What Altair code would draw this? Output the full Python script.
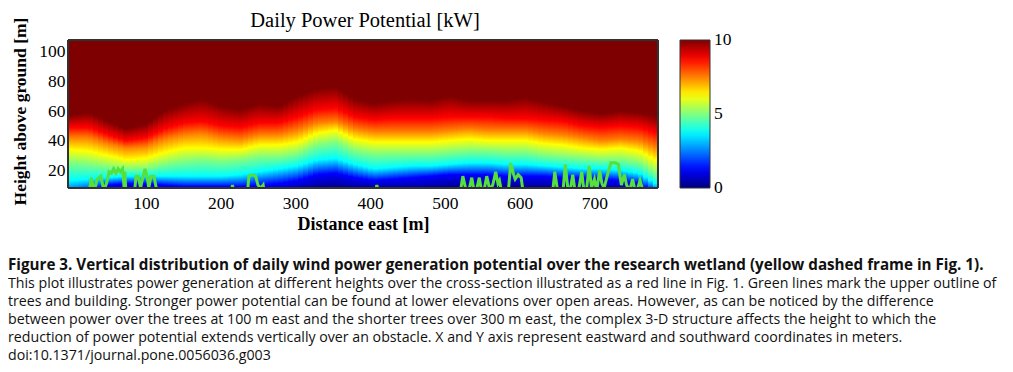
import numpy as np
import pandas as pd
import altair as alt

# ---------------- data ----------------
# x positions (m) of the stations at which iso-power heights were read
station_x = [-4, 24, 49, 74, 100, 125, 151, 176, 202, 227, 252, 278, 303, 329, 354, 379,
             405, 430, 456, 481, 506, 532, 557, 583, 608, 633, 659, 684, 710, 735, 760, 785]
# power levels (kW) and the height (m) at which each level is reached, per station
level_kw = [0, 1.25, 3.75, 5, 6.25, 7.5, 8.75, 10]
h_0   = [-6, -4, 2, 4, 4, 2, 0, 0, 0, 0, 1, 1, 3, 6, 7, 6, 7, 6, 5, 6, 7, 7, 7, 7, 7, 7, 7, 7, 6, 5, 3, -2]
h_125 = [1, 5, 10, 11, 11, 10, 9, 9, 9, 9, 10, 11, 13, 17, 18, 15, 13, 14, 15, 16, 17, 17, 17, 16, 16, 16, 15, 15, 14, 13, 11, 3]
h_375 = [13, 14, 15, 16, 16, 16, 16, 16, 16, 17, 19, 21, 23, 27, 28, 24, 21, 22, 23, 23, 24, 25, 25, 24, 24, 23, 22, 21, 21, 20, 18, 10]
h_5   = [25, 24, 22, 21, 21, 24, 26, 27, 26, 27, 29, 29, 31, 37, 39, 33, 31, 31, 31, 31, 32, 33, 33, 32, 32, 30, 29, 28, 27, 27, 25, 17]
h_625 = [34, 33, 30, 27, 28, 32, 35, 35, 34, 34, 37, 37, 39, 45, 47, 41, 39, 39, 39, 39, 40, 41, 40, 40, 40, 38, 37, 35, 34, 35, 33, 26]
h_75  = [42, 42, 38, 35, 36, 41, 44, 45, 42, 41, 44, 44, 47, 52, 53, 48, 46, 46, 46, 46, 47, 48, 47, 47, 47, 45, 44, 42, 40, 41, 40, 35]
h_875 = [49, 49, 44, 40, 42, 48, 52, 53, 50, 49, 52, 52, 56, 61, 62, 56, 54, 55, 55, 55, 56, 56, 56, 55, 55, 54, 53, 50, 49, 50, 49, 45]
h_10  = [57, 59, 53, 48, 51, 60, 65, 68, 63, 61, 65, 63, 70, 75, 76, 68, 65, 67, 68, 67, 70, 67, 67, 67, 69, 66, 63, 60, 58, 60, 59, 56]
level_heights = [h_0, h_125, h_375, h_5, h_625, h_75, h_875, h_10]

# upper outline of trees and building (green line)
tree_x = [-4, 23, 27, 31, 35, 40, 44, 48, 51, 54, 57, 60, 63, 66, 69, 71, 72, 74,
          84, 87, 90, 93, 96, 99, 102, 104, 107, 111, 114, 116,
          212, 216, 219, 235, 238, 242, 247, 250, 254, 257, 260,
          405, 409, 413,
          519, 524, 528, 532, 536, 539, 542, 546, 549, 553, 556, 560, 564, 568, 571, 573, 576,
          584, 588, 592, 594, 598, 602, 606,
          643, 647, 651, 657, 661, 665, 668, 671, 674, 679, 683, 686, 689, 693, 696, 700, 703,
          707, 710, 713, 718, 722, 728, 732, 736, 740, 743, 747, 751, 754, 758, 761, 765, 769, 785]
tree_h = [0, 0, 15, 6, 14, 16, 6, 12, 19, 18, 21, 18, 21, 19, 21, 8, 19, 0,
          0, 16, 16, 8, 15, 21, 15, 8, 16, 16, 8, 0,
          0, 10, 0, 0, 16, 17, 16, 10, 8, 10, 0,
          0, 10, 0,
          0, 16, 7, 6, 15, 6, 6, 15, 6, 8, 16, 7, 10, 19, 11, 13, 5,
          0, 25, 17, 14, 17, 15, 0,
          0, 19, 5, 0, 24, 5, 8, 17, 6, 7, 19, 6, 5, 23, 8, 14, 6,
          20, 11, 8, 18, 25, 25, 24, 10, 17, 10, 6, 14, 7, 8, 13, 6, 0, 0]

x_ticks = [100, 200, 300, 400, 500, 600, 700]
y_ticks = [20, 40, 60, 80, 100]
cbar_ticks = [0, 5, 10]
jet_stops = [0, 1.25, 3.75, 6.25, 8.75, 10]
jet_colors = ["#00007f", "#0000ff", "#00ffff", "#ffff00", "#ff0000", "#7f0000"]

title_text = "Daily Power Potential [kW]"
x_title = "Distance east [m]"
y_title = "Height above ground [m]"
caption_bold = ("Figure 3. Vertical distribution of daily wind power generation potential "
                "over the research wetland (yellow dashed frame in Fig. 1).")
caption_lines = [
    "This plot illustrates power generation at different heights over the cross-section illustrated as a red line in Fig. 1. Green lines mark the upper outline of",
    "trees and building. Stronger power potential can be found at lower elevations over open areas. However, as can be noticed by the difference",
    "between power over the trees at 100 m east and the shorter trees over 300 m east, the complex 3-D structure affects the height to which the",
    "reduction of power potential extends vertically over an obstacle. X and Y axis represent eastward and southward coordinates in meters.",
    "doi:10.1371/journal.pone.0056036.g003",
]

# ---------------- build the field cells from the level heights ----------------
X_MIN, X_MAX, Y_MIN, Y_MAX = -4, 785, 8, 108
W, H = 590, 148
CBAR_X = 612
H_arr = np.array(level_heights, dtype=float)
# cell grid: 5 px columns and 1 px rows, so that cell edges fall on whole pixels
NCOL, NROW = W // 5, H
edges_x = X_MIN + np.arange(NCOL + 1) * (X_MAX - X_MIN) / NCOL
edges_y = Y_MIN + np.arange(NROW + 1) * (Y_MAX - Y_MIN) / NROW
recs = []
for i in range(NCOL):
    xa, xb = edges_x[i], edges_x[i + 1]
    xc = 0.5 * (xa + xb)
    hh = np.array([np.interp(xc, station_x, row) for row in H_arr])
    for j in range(NROW):
        ya, yb = edges_y[j], edges_y[j + 1]
        v = float(np.interp(0.5 * (ya + yb), hh, level_kw))
        if v >= 10:
            recs.append((xa, xb, ya, Y_MAX, 10.0))
            break
        recs.append((xa, xb, ya, yb, round(v, 3)))
cells = pd.DataFrame(recs, columns=["x0", "x1", "y0", "y1", "v"])
trees = pd.DataFrame({"x": tree_x, "h": tree_h})

xscale = alt.Scale(domain=[X_MIN, X_MAX], nice=False, zero=False)
yscale = alt.Scale(domain=[Y_MIN, Y_MAX], nice=False, zero=False)
cscale = alt.Scale(domain=jet_stops, range=jet_colors, interpolate="rgb", clamp=True)

SERIF = "Liberation Serif"

heat = alt.Chart(cells).mark_rect(strokeWidth=0).encode(
    x=alt.X("x0:Q", scale=xscale, axis=alt.Axis(
        values=x_ticks, title=x_title, grid=False, ticks=False, domain=False,
        labelFont=SERIF, labelFontSize=17.5, labelColor="#000", labelPadding=6,
        labelOverlap=False,
        titleFont=SERIF, titleFontSize=18, titleFontWeight="bold", titleColor="#000",
        titleBaseline="alphabetic", titleX=295, titleY=41.5)),
    x2="x1:Q",
    y=alt.Y("y0:Q", scale=yscale, axis=alt.Axis(
        values=y_ticks, title=y_title, grid=False, ticks=False, domain=False,
        labelFont=SERIF, labelFontSize=17.5, labelColor="#000", labelPadding=3,
        labelOverlap=False,
        titleFont=SERIF, titleFontSize=17.5, titleFontWeight="bold", titleColor="#000",
        titleAngle=270, titleBaseline="alphabetic", titleAlign="center",
        titleX=-42.5, titleY=71)),
    y2="y1:Q",
    color=alt.Color("v:Q", scale=cscale, legend=alt.Legend(
        type="gradient", title=None, values=cbar_ticks, orient="none",
        legendX=CBAR_X, legendY=0,
        gradientLength=H, gradientThickness=30, direction="vertical",
        gradientStrokeColor="#333", gradientStrokeWidth=1,
        labelExpr="''", labelOpacity=0, padding=0)),
)

tree_line = alt.Chart(trees).mark_line(color="#55e03c", strokeWidth=3, clip=True).encode(
    x=alt.X("x:Q", scale=xscale), y=alt.Y("h:Q", scale=yscale, axis=None))

frame = alt.Chart(trees).mark_rect(filled=False, color="#333", strokeWidth=1).encode(
    x=alt.value(0), x2=alt.value(W), y=alt.value(0), y2=alt.value(H))

# colorbar tick labels, placed through their own 0-10 scale along the bar
cbar_labels = alt.Chart(pd.DataFrame({"t": cbar_ticks})).mark_text(
    font=SERIF, fontSize=17.5, color="#000", align="left", baseline="middle").encode(
    text=alt.Text("t:Q"),
    x=alt.value(CBAR_X + 34),
    y=alt.Y("t:Q", scale=alt.Scale(domain=[0, 10], range=[H, 0]), axis=None))


def text_layer(txt, x, y, **kw):
    return alt.Chart(pd.DataFrame({"t": [txt]})).mark_text(**kw).encode(
        text="t:N", x=alt.value(x), y=alt.value(y))


title = text_layer(title_text, 297, -13.3, font=SERIF, fontSize=20.5, align="center",
                   baseline="alphabetic", color="#000")
cap1 = text_layer(caption_bold, -60, 230.3, font="Open Sans", fontSize=15.2, fontWeight="bold",
                  align="left", baseline="alphabetic", color="#111")
cap2 = alt.Chart(pd.DataFrame({"k": [0]})).mark_text(
    font="Open Sans", fontSize=14.2, align="left", baseline="alphabetic", color="#111",
    lineHeight=18.1, text=caption_lines).encode(x=alt.value(-60), y=alt.value(248))

chart = alt.layer(heat, tree_line, frame, cbar_labels, title, cap1, cap2).resolve_scale(
    y="independent"
).properties(
    width=W, height=H,
    autosize=alt.AutoSizeParams(type="none"),
    padding={"left": 60, "top": 32, "right": 347, "bottom": 176},
    background="white",
).configure_view(stroke=None)

chart.save("out.html", embed_options={"renderer": "svg", "actions": False})
